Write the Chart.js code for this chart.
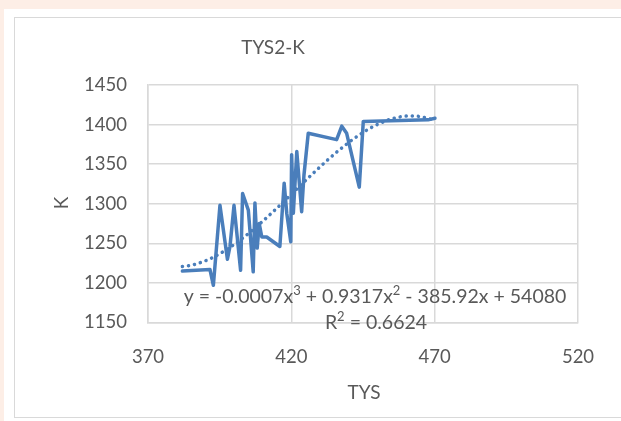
<!DOCTYPE html>
<html>
<head>
<meta charset="utf-8">
<script src="https://cdn.jsdelivr.net/npm/chart.js@4/dist/chart.umd.min.js"></script>
<style>
    body { margin: 0; background: #fdeee6; width: 621px; height: 421px; overflow: hidden; position: relative; }
    .panel { position: absolute; left: 4px; top: 9px; width: 617px; height: 412px; background: #fff; }
    .frame { position: absolute; left: 14px; top: 17px; width: 620px; height: 399px; border: 1.5px solid #d9d9d9; }
    #wrap { position: absolute; left: 0; top: 0; width: 621px; height: 421px; }
</style>
</head>
<body>
<div class="panel"></div>
<div class="frame"></div>
<div id="wrap"><canvas id="tysChart" width="621" height="421"></canvas></div>
<script>
// ===============================
// Dados
// ===============================
const tys = [382.0, 391.6, 392.8, 395.1, 397.7, 398.6, 400.0, 402.3, 403.0, 405.0,
             406.7, 407.3, 408.1, 408.8, 409.7, 411.4, 416.0, 417.5, 418.4, 419.8,
             420.1, 420.7, 421.9, 423.6, 424.4, 425.9, 435.8, 437.6, 439.3, 443.7,
             445.1, 467.7, 470.1];
const kValues = [1215, 1217, 1197, 1298, 1230, 1246, 1298, 1216, 1313, 1292,
                 1214, 1301, 1244, 1275, 1258, 1258, 1246, 1326, 1288, 1252,
                 1362, 1288, 1366, 1290, 1336, 1389, 1381, 1398, 1389, 1321,
                 1404, 1406, 1408];
const xTicks = [370, 420, 470, 520];
const yTicks = [1150, 1200, 1250, 1300, 1350, 1400, 1450];

const chartTitle = 'TYS2-K';
const xTitle = 'TYS';
const yTitle = 'K';
// pedaços da equação: [texto, sobrescrito?]
const equationParts = [['y = -0.0007x', false], ['3', true], [' + 0.9317x', false], ['2', true],
                       [' - 385.92x + 54080', false]];
const r2Parts = [['R', false], ['2', true], [' = 0.6624', false]];

const blue = '#4a7ebb';
const textGrey = '#595959';

// ===============================
// Linha de tendência polinomial (grau 3, mínimos quadrados)
// ===============================
function ajustePolinomial(xs, ys, grau) {
    const n = xs.length;
    const media = xs.reduce((a, b) => a + b, 0) / n;
    const escala = Math.sqrt(xs.reduce((a, b) => a + (b - media) ** 2, 0) / n);
    const us = xs.map(x => (x - media) / escala);
    const m = grau + 1;
    const A = [];
    for (let i = 0; i < m; i++) {
        A.push([]);
        for (let j = 0; j < m; j++) A[i].push(us.reduce((s, u) => s + u ** (i + j), 0));
        A[i].push(us.reduce((s, u, idx) => s + ys[idx] * u ** i, 0));
    }
    for (let c = 0; c < m; c++) {
        let p = c;
        for (let r = c + 1; r < m; r++) if (Math.abs(A[r][c]) > Math.abs(A[p][c])) p = r;
        [A[c], A[p]] = [A[p], A[c]];
        for (let r = 0; r < m; r++) {
            if (r === c) continue;
            const f = A[r][c] / A[c][c];
            for (let k = c; k <= m; k++) A[r][k] -= f * A[c][k];
        }
    }
    const coef = A.map((row, i) => row[m] / row[i]);
    return x => {
        const u = (x - media) / escala;
        return coef.reduce((s, c, i) => s + c * u ** i, 0);
    };
}

const tendencia = ajustePolinomial(tys, kValues, 3);
const xMin = Math.min(...tys), xMax = Math.max(...tys);
const trendPoints = [];
for (let i = 0; i <= 60; i++) {
    const x = xMin + (xMax - xMin) * i / 60;
    trendPoints.push({ x: x, y: tendencia(x) });
}

// texto com sobrescritos, centrado em (cx, cy)
function desenharComSobrescrito(ctx, partes, cx, cy, tamanho) {
    const fonteNormal = tamanho + 'px Lato';
    const fonteSup = Math.round(tamanho * 0.68) + 'px Lato';
    let largura = 0;
    partes.forEach(([t, sup]) => {
        ctx.font = sup ? fonteSup : fonteNormal;
        largura += ctx.measureText(t).width;
    });
    let x = cx - largura / 2;
    ctx.textAlign = 'left';
    partes.forEach(([t, sup]) => {
        ctx.font = sup ? fonteSup : fonteNormal;
        ctx.fillText(t, x, sup ? cy - tamanho * 0.32 : cy);
        x += ctx.measureText(t).width;
    });
}

// ===============================
// Textos (título, eixos, equação)
// ===============================
const textosPlugin = {
    id: 'textos',
    afterDraw(chart) {
        const ctx = chart.ctx;
        ctx.save();
        ctx.fillStyle = textGrey;
        ctx.textAlign = 'center';
        ctx.textBaseline = 'middle';
        ctx.font = '19px Lato';
        ctx.fillText(chartTitle, 273, 48);
        ctx.fillText(xTitle, 364, 393);
        desenharComSobrescrito(ctx, equationParts, 375, 297, 19.5);
        desenharComSobrescrito(ctx, r2Parts, 376, 323, 19.5);
        ctx.textAlign = 'center';
        ctx.font = '19px Lato';
        ctx.translate(62, 203);
        ctx.rotate(-Math.PI / 2);
        ctx.fillText(yTitle, 0, 0);
        ctx.restore();
    }
};

const ctx = document.getElementById('tysChart').getContext('2d');

new Chart(ctx, {
    type: 'scatter',
    data: {
        datasets: [{
            data: tys.map((x, i) => ({ x: x, y: kValues[i] })),
            showLine: true,
            borderColor: blue,
            borderWidth: 3.5,
            borderCapStyle: 'round',
            borderJoinStyle: 'round',
            pointRadius: 0,
            order: 1
        }, {
            data: trendPoints,
            showLine: true,
            borderColor: blue,
            borderWidth: 3.5,
            borderDash: [0.1, 6],
            borderCapStyle: 'round',
            pointRadius: 0,
            order: 2
        }]
    },
    options: {
        responsive: false,
        animation: false,
        layout: { padding: { top: 85, right: 43, left: 0, bottom: 0 } },
        plugins: {
            legend: { display: false },
            tooltip: { enabled: false }
        },
        scales: {
            x: {
                type: 'linear',
                min: xTicks[0],
                max: xTicks[xTicks.length - 1],
                afterBuildTicks: s => { s.ticks = xTicks.map(v => ({ value: v })); },
                afterFit: s => { s.height = 98.5; },
                grid: { color: '#d9d9d9', lineWidth: 1.5, drawTicks: false },
                border: { color: '#d9d9d9', width: 1.5 },
                ticks: {
                    color: textGrey, font: { family: 'Lato', size: 18.5 }, padding: 23, maxRotation: 0,
                    callback: v => String(v)
                }
            },
            y: {
                min: yTicks[0],
                max: yTicks[yTicks.length - 1],
                afterBuildTicks: s => { s.ticks = yTicks.map(v => ({ value: v })); },
                afterFit: s => { s.width = 148; },
                grid: { color: '#d9d9d9', lineWidth: 1.5, drawTicks: false },
                border: { color: '#d9d9d9', width: 1.5 },
                ticks: {
                    color: textGrey, font: { family: 'Lato', size: 18.5 }, padding: 21,
                    callback: v => String(v)
                }
            }
        }
    },
    plugins: [textosPlugin]
});
</script>
</body>
</html>
